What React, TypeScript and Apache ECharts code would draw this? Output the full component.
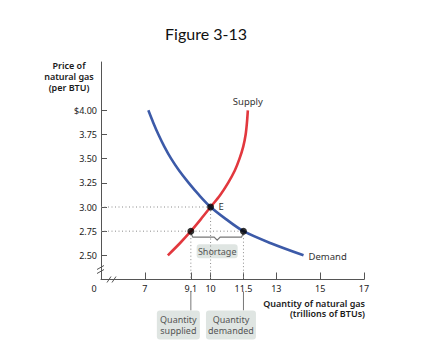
import React, { useEffect, useRef } from "react";
import * as echarts from "echarts";

const priceTicks = [2.5, 2.75, 3.0, 3.25, 3.5, 3.75, 4.0];
const qtyTicks = [7, 9.1, 10, 11.5, 13, 15, 17];
const supplyQ = [8.05, 8.6, 9.1, 9.56, 10.0, 10.44, 10.8, 11.1, 11.32, 11.49, 11.6, 11.66, 11.7];
const supplyP = [2.5, 2.625, 2.75, 2.875, 3.0, 3.125, 3.25, 3.375, 3.5, 3.625, 3.75, 3.875, 4.0];
const demandQ = [7.16, 7.38, 7.62, 7.89, 8.2, 8.57, 9.0, 9.47, 10.0, 10.7, 11.5, 12.75, 14.24];
const demandP = [4.0, 3.875, 3.75, 3.625, 3.5, 3.375, 3.25, 3.125, 3.0, 2.875, 2.75, 2.625, 2.5];
const eqQ = 10;
const eqP = 3.0;
const ceilingP = 2.75;
const qtySupplied = 9.1;
const qtyDemanded = 11.5;
const xMin = 5;
const xMax = 17;
const yMin = 2.25;
const yMax = 4.5;

const FONT = "'Noto Sans', sans-serif";
const DOT = "#8a8a8a";

export default function App() {
  const ref = useRef<HTMLDivElement>(null);
  useEffect(() => {
    document.body.style.margin = "0";
    const chart = echarts.init(ref.current as HTMLDivElement, null, { renderer: "svg" });
    const dotted = (data: number[][]) => ({
      type: "line",
      data,
      showSymbol: false,
      silent: true,
      lineStyle: { color: DOT, width: 1, type: [1, 2.5] },
      z: 1,
    });
    chart.setOption({
      animation: false,
      grid: { left: 101, top: 62, width: 263, height: 217.5, containLabel: false },
      xAxis: {
        type: "value",
        min: xMin,
        max: xMax,
        splitLine: { show: false },
        axisLine: { lineStyle: { color: "#555", width: 1 } },
        axisTick: { inside: true, length: 7, customValues: qtyTicks, lineStyle: { color: "#555" } },
        axisLabel: {
          customValues: qtyTicks,
          fontFamily: FONT,
          fontSize: 9,
          color: "#1a1a1a",
          margin: 4,
          formatter: (v: number) => String(v),
        },
      },
      yAxis: {
        type: "value",
        min: yMin,
        max: yMax,
        splitLine: { show: false },
        axisLine: { show: true, lineStyle: { color: "#555", width: 1 } },
        axisTick: { show: true, inside: true, length: 6, customValues: priceTicks, lineStyle: { color: "#555" } },
        axisLabel: {
          customValues: priceTicks,
          fontFamily: FONT,
          fontSize: 9,
          color: "#1a1a1a",
          margin: 4,
          formatter: (v: number) => (v === 4 ? "$4.00" : v.toFixed(2)),
        },
      },
      series: [
        dotted([[xMin, eqP], [eqQ, eqP]]),
        dotted([[xMin, ceilingP], [qtyDemanded, ceilingP]]),
        dotted([[qtySupplied, ceilingP], [qtySupplied, yMin]]),
        dotted([[eqQ, eqP], [eqQ, yMin]]),
        dotted([[qtyDemanded, ceilingP], [qtyDemanded, yMin]]),
        {
          name: "Supply",
          type: "line",
          data: supplyQ.map((q, i) => [q, supplyP[i]]),
          smooth: 0.3,
          showSymbol: false,
          lineStyle: { color: "#e2383e", width: 2.6 },
          z: 3,
        },
        {
          name: "Demand",
          type: "line",
          data: demandQ.map((q, i) => [q, demandP[i]]),
          smooth: 0.3,
          showSymbol: false,
          lineStyle: { color: "#3c5aa8", width: 2.6 },
          z: 3,
        },
        {
          type: "scatter",
          data: [[eqQ, eqP], [qtySupplied, ceilingP], [qtyDemanded, ceilingP]],
          symbolSize: 7,
          itemStyle: { color: "#000" },
          z: 5,
        },
      ],
    });

    const px = (q: number, p: number) => chart.convertToPixel({ gridIndex: 0 }, [q, p]) as number[];
    const [ox, oy] = px(xMin, yMin);
    const [sx] = px(qtySupplied, ceilingP);
    const [dx, cy] = px(qtyDemanded, ceilingP);
    const [ex, ey] = px(eqQ, eqP);
    const [supTopX, supTopY] = px(supplyQ[supplyQ.length - 1], supplyP[supplyP.length - 1]);
    const [demEndX, demEndY] = px(demandQ[demandQ.length - 1], demandP[demandP.length - 1]);
    const [rightX] = px(xMax, yMin);
    const midX = (sx + dx) / 2;
    const txt = (x: number, y: number, text: string, extra: any = {}) => ({
      type: "text",
      x,
      y,
      silent: true,
      style: {
        text,
        fontFamily: FONT,
        fontSize: 9,
        fill: "#1a1a1a",
        align: "center",
        verticalAlign: "middle",
        ...extra,
      },
    });
    const gline = (x1: number, y1: number, x2: number, y2: number, color = "#666", w = 1) => ({
      type: "line",
      silent: true,
      shape: { x1, y1, x2, y2 },
      style: { stroke: color, lineWidth: w },
    });
    const box = (x: number, y: number, w: number, h: number) => ({
      type: "rect",
      silent: true,
      shape: { x, y, width: w, height: h, r: 3 },
      style: { fill: "#dfe5e2" },
    });
    const braceY = cy + 6;
    chart.setOption({
      graphic: [
        txt(206, 33, "Figure 3-13", { fontFamily: "Lato, 'Open Sans', sans-serif", fontSize: 16, fill: "#111" }),
        txt(69, 76, "Price of\nnatural gas\n(per BTU)", { fontWeight: 600, lineHeight: 11 }),
        txt(ox - 7, oy + 9, "0"),
        txt(rightX + 1, oy + 29, "Quantity of natural gas\n(trillions of BTUs)", {
          align: "right",
          fontWeight: 600,
          lineHeight: 10.5,
        }),
        txt(supTopX, supTopY - 9, "Supply", { fontSize: 9.5, fill: "#333" }),
        txt(demEndX + 5, demEndY + 1, "Demand", { fontSize: 9.5, fill: "#333", align: "left" }),
        txt(ex + 8, ey - 1, "E", { fontSize: 9.5, fill: "#333", align: "left" }),
        {
          type: "polyline",
          silent: true,
          shape: {
            points: [
              [sx, braceY - 4],
              [sx + 2, braceY],
              [midX - 3, braceY],
              [midX, braceY + 3],
              [midX + 3, braceY],
              [dx - 2, braceY],
              [dx, braceY - 4],
            ],
          },
          style: { stroke: "#777", lineWidth: 1.2, fill: null },
        },
        box(midX - 20.5, cy + 13, 41, 14),
        txt(midX, cy + 20, "Shortage", { fill: "#555" }),
        gline(sx, oy + 12, sx, oy + 31, "#777"),
        gline(dx, oy + 12, dx, oy + 31, "#777"),
        box(sx - 34, oy + 31, 43, 29),
        txt(sx - 12.5, oy + 45.5, "Quantity\nsupplied", { fill: "#555", lineHeight: 11 }),
        box(dx - 37.5, oy + 31, 50, 29),
        txt(dx - 12.5, oy + 45.5, "Quantity\ndemanded", { fill: "#555", lineHeight: 11 }),
        // axis breaks
        { type: "rect", silent: true, shape: { x: ox - 4, y: oy - 12, width: 8, height: 4 }, style: { fill: "#fff" } },
        gline(ox - 4, oy - 10, ox + 3, oy - 14, "#555"),
        gline(ox - 4, oy - 6, ox + 3, oy - 10, "#555"),
        { type: "rect", silent: true, shape: { x: ox + 9, y: oy - 3, width: 5, height: 6 }, style: { fill: "#fff" } },
        gline(ox + 6, oy + 3, ox + 10, oy - 3, "#555"),
        gline(ox + 11, oy + 3, ox + 15, oy - 3, "#555"),
      ],
    });
    return () => chart.dispose();
  }, []);
  return <div ref={ref} style={{ width: 442, height: 362 }} />;
}
